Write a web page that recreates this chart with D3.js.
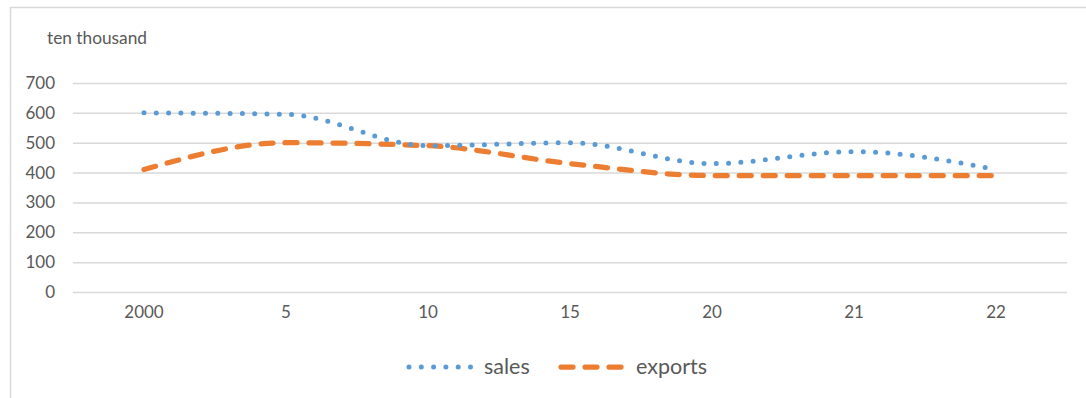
<!DOCTYPE html>
<html>
<head>
<meta charset="utf-8">
<script src="https://cdn.jsdelivr.net/npm/d3@7"></script>
<style>
	body { margin: 0; background: #fff; }
	svg text { font-family: Lato, "Open Sans", sans-serif; fill: #595959; }
</style>
</head>
<body>
<div class="container"></div>
<script>
var years = ['2000', '5', '10', '15', '20', '21', '22'];
var sales = [600, 595, 490, 500, 430, 470, 410];
var exports = [410, 500, 490, 430, 390, 390, 390];
var yTicks = [0, 100, 200, 300, 400, 500, 600, 700];

var svg = d3.select('.container')
	.append('svg')
	.attr('width', 1086)
	.attr('height', 398);

// chart area border (right and bottom edges fall outside the picture)
svg.append('rect')
	.attr('x', 10.5)
	.attr('y', 7.5)
	.attr('width', 1200)
	.attr('height', 600)
	.attr('fill', 'none')
	.attr('stroke', '#d9d9d9')
	.attr('stroke-width', 1.5);

var x = d3.scaleBand().domain(years).range([73, 1067]);
var y = d3.scaleLinear().domain([0, 700]).range([292, 83]);

svg.append('text')
	.attr('x', 47)
	.attr('y', 44)
	.attr('font-size', 17.3)
	.text('ten thousand');

var yAxis = svg.append('g')
	.attr('transform', 'translate(73,0)')
	.call(d3.axisLeft(y).tickValues(yTicks).tickSize(-994).tickPadding(18));
yAxis.select('.domain').remove();
yAxis.selectAll('line').attr('stroke', '#d9d9d9').attr('stroke-width', 1.5);
yAxis.selectAll('text').attr('font-size', 17).attr('fill', '#595959');

var xAxis = svg.append('g')
	.attr('transform', 'translate(0,292)')
	.call(d3.axisBottom(x).tickSize(0).tickPadding(14));
xAxis.select('.domain').remove();
xAxis.selectAll('text').attr('font-size', 17).attr('fill', '#595959');

var line = d3.line()
	.x(function(d, i) { return x(years[i]) + x.bandwidth() / 2; })
	.y(function(d) { return y(d); })
	.curve(d3.curveMonotoneX);

svg.append('path')
	.datum(exports)
	.attr('d', line)
	.attr('fill', 'none')
	.attr('stroke', '#ed7d31')
	.attr('stroke-width', 5.25)
	.attr('stroke-linecap', 'round')
	.attr('stroke-dasharray', '12 12');

svg.append('path')
	.datum(sales)
	.attr('d', line)
	.attr('fill', 'none')
	.attr('stroke', '#5b9bd5')
	.attr('stroke-width', 5)
	.attr('stroke-linecap', 'round')
	.attr('stroke-dasharray', '0 12.3');

// legend
var legend = svg.append('g');
legend.append('line')
	.attr('x1', 409).attr('x2', 471).attr('y1', 367).attr('y2', 367)
	.attr('stroke', '#5b9bd5')
	.attr('stroke-width', 5)
	.attr('stroke-linecap', 'round')
	.attr('stroke-dasharray', '0 12.3');
legend.append('text')
	.attr('x', 484).attr('y', 374)
	.attr('font-size', 21.5)
	.text('sales');
legend.append('line')
	.attr('x1', 561).attr('x2', 621).attr('y1', 367).attr('y2', 367)
	.attr('stroke', '#ed7d31')
	.attr('stroke-width', 5.25)
	.attr('stroke-linecap', 'round')
	.attr('stroke-dasharray', '12 12');
legend.append('text')
	.attr('x', 636).attr('y', 374)
	.attr('font-size', 21.5)
	.text('exports');
</script>
</body>
</html>
